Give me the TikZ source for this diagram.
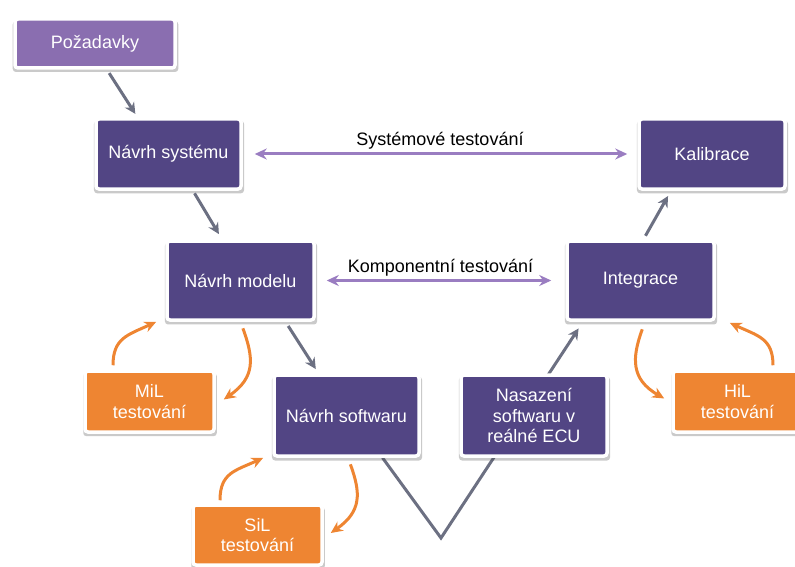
\documentclass[tikz,border=0pt]{standalone}
\usepackage{fontspec}
\setmainfont{Liberation Sans}
\usetikzlibrary{arrows.meta}
\usetikzlibrary{shadows}
\usetikzlibrary{backgrounds}
\definecolor{vdark}{HTML}{524584}
\definecolor{vlight}{HTML}{8A6EB0}
\definecolor{vorange}{HTML}{EE8532}
\definecolor{vgrey}{HTML}{6C7082}
\definecolor{vline}{HTML}{9A7DC1}

\begin{document}
\begin{tikzpicture}[x=1pt,y=1pt,
  box/.style={draw=white,line width=3.5pt,rounded corners=3pt,text=white,align=center,
    font=\fontsize{18}{20.5}\selectfont,inner sep=2pt,
    drop shadow={shadow xshift=0.5pt,shadow yshift=-3pt,shadow scale=1.035,opacity=0.28,fill=black!75}},
  phase/.style={box,fill=vdark},
  testbox/.style={box,fill=vorange,minimum width=129pt,minimum height=61pt},
  flow/.style={-{Stealth[length=11pt,width=11pt]},line width=3pt,vgrey},
  sweep/.style={{Stealth[length=12pt,width=11pt]}-{Stealth[length=12pt,width=11pt]},line width=3pt,vline},
  loop/.style={-{Stealth[length=12pt,width=11pt]},line width=3pt,vorange,looseness=1.25},
  tlabel/.style={font=\fontsize{18}{20}\selectfont,text=black,inner sep=3pt}]
\useasboundingbox (0,0) rectangle (795,-567);
\node[phase,fill=vlight,minimum width=160pt,minimum height=49pt] (req) at (95,-43.5) {Požadavky};
\node[phase,minimum width=145pt,minimum height=70pt] (sys) at (168.5,-154) {Návrh systému};
\node[phase,minimum width=147pt,minimum height=79pt] (model) at (240.5,-280.5) {Návrh modelu};
\node[phase,minimum width=145pt,minimum height=81pt] (sw) at (346.5,-415.5) {Návrh softwaru};
\node[phase,minimum width=146pt,minimum height=81pt] (ecu) at (534,-415.5) {Nasazení\\softwaru v\\reálné ECU};
\node[phase,minimum width=147pt,minimum height=79pt] (integ) at (640.5,-280.5) {Integrace};
\node[phase,minimum width=146pt,minimum height=70pt] (kal) at (712,-154) {Kalibrace};
\node[testbox] (mil) at (149.5,-401.5) {MiL\\testování};
\node[testbox,minimum height=60pt] (sil) at (257.5,-535) {SiL\\testování};
\node[testbox] (hil) at (737.5,-401.5) {HiL\\testování};
\coordinate (vtx) at (441,-538);
\begin{scope}[on background layer]
\draw[flow,shorten >=8pt] ([xshift=36pt]sw.south) -- (vtx) -- ([xshift=-57.5pt]integ.south);
\end{scope}
\draw[flow,shorten <=4pt,shorten >=4pt] ([xshift=12pt]req.south) -- ([xshift=-31pt]sys.north);
\draw[flow,shorten <=3pt,shorten >=6pt] ([xshift=24.5pt]sys.south) -- ([xshift=-18.5pt]model.north);
\draw[flow,shorten <=5pt,shorten >=5pt] ([xshift=45pt]model.south) -- ([xshift=-28pt]sw.north);
\draw[flow,shorten <=4pt,shorten >=6pt] ([xshift=3pt]integ.north) -- ([xshift=-41pt]kal.south);
\draw[sweep,shorten <=12pt,shorten >=10pt] (sys.east) -- node[tlabel,above] (systest) {Systémové testování} (kal.west);
\draw[sweep,shorten <=11pt,shorten >=14pt] (model.east) -- node[tlabel,above] (comptest) {Komponentní testování} (integ.west);
\draw[loop,shorten <=4pt] ([xshift=-36.5pt]mil.north) to[out=90,in=205] ([xshift=-9pt]model.south west);
\draw[loop,shorten <=7pt] (model.south) to[out=-70,in=35] ([shift={(8pt,2pt)}]mil.east);
\draw[loop,shorten <=3pt] ([xshift=-37.5pt]sil.north) to[out=90,in=205] ([xshift=-9pt]sw.south west);
\draw[loop,shorten <=7pt] ([xshift=1.5pt]sw.south) to[out=-70,in=35] ([shift={(7pt,2pt)}]sil.east);
\draw[loop,shorten <=8pt] ([xshift=4.5pt]integ.south) to[out=-110,in=150] ([shift={(-7pt,3pt)}]hil.west);
\draw[loop,shorten <=4pt] ([xshift=35.5pt]hil.north) to[out=90,in=-25] ([shift={(14pt,-1pt)}]integ.south east);
\end{tikzpicture}
\end{document}
